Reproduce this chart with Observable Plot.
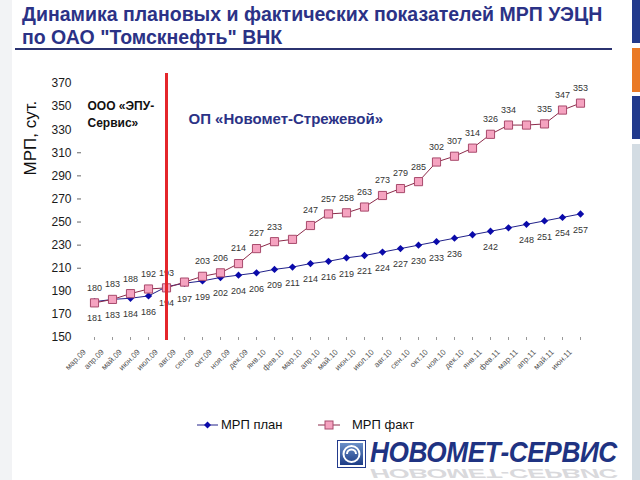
<!DOCTYPE html>
<html>
<head>
<meta charset="utf-8">
<script src="https://cdn.jsdelivr.net/npm/d3@7"></script>
<script src="https://cdn.jsdelivr.net/npm/@observablehq/plot@0.6"></script>
<style>
  html, body { margin: 0; padding: 0; background: #fff; }
  #wrap { position: relative; width: 640px; height: 480px; overflow: hidden; font-family: "Liberation Sans", Arial, sans-serif; }
  #wrap svg.plot { position: absolute; left: 0; top: 0; }
  .abs { position: absolute; white-space: nowrap; }
</style>
</head>
<body>
<div id="wrap">
  <div class="abs" style="left:0;top:0;width:12px;height:480px;background:#f2f3f5;"></div>
  <div class="abs" style="left:632px;top:0;width:8px;height:43px;background:#223a8c;"></div>
  <div class="abs" style="left:632px;top:48px;width:8px;height:44px;background:#ea7a26;"></div>
  <div class="abs" style="left:632px;top:96px;width:8px;height:43px;background:#223a8c;"></div>
  <div class="abs" style="left:632px;top:144px;width:8px;height:336px;background:#d3dce3;"></div>
  <div class="abs" id="title" style="left:22px;top:3px;font-size:19.5px;font-weight:bold;color:#2b3286;line-height:23px;">Динамика плановых и фактических показателей МРП УЭЦН<br>по ОАО "Томскнефть" ВНК</div>
  <div class="abs" style="left:15px;top:48px;width:597px;height:2px;background:#2b3270;"></div>
</div>
<script>
const months = ["мар.09","апр.09","май.09","июн.09","июл.09","авг.09","сен.09","окт.09","ноя.09","дек.09",
  "янв.10","фев.10","мар.10","апр.10","май.10","июн.10","июл.10","авг.10","сен.10","окт.10","ноя.10","дек.10",
  "янв.11","фев.11","мар.11","апр.11","май.11","июн.11"];
const planValues = [181,183,184,186,194,197,199,202,204,206,209,211,214,216,219,221,224,227,230,233,236,239,242,245,248,251,254,257];
const factValues = [180,183,188,192,193,198,203,206,214,227,233,235,247,257,258,263,273,279,285,302,307,314,326,334,334,335,347,353];
const planLabelShown = [181,183,184,186,194,197,199,202,204,206,209,211,214,216,219,221,224,227,230,233,236,null,242,null,248,251,254,257];
const factLabelShown = [180,183,188,192,193,null,203,206,214,227,233,null,247,257,258,263,273,279,285,302,307,314,326,334,null,335,347,353];
const yTicks = [150,170,190,210,230,250,270,290,310,330,350,370];
const yDashTicks = [210,230,250,270,290,310];
const dividerMonth = "июл.09";
const yTitle = "МРП, сут.";
const leftCompany = ["ООО «ЭПУ-", "Сервис»"];
const rightCompany = "ОП «Новомет-Стрежевой»";
const seriesNames = ["МРП план", "МРП факт"];
const logoText = "НОВОМЕТ-СЕРВИС";

const plan = months.map((m, i) => ({month: m, value: planValues[i], label: planLabelShown[i]}));
const fact = months.map((m, i) => ({month: m, value: factValues[i], label: factLabelShown[i]}));

const font = "'Liberation Sans', Arial, sans-serif";

const chart = Plot.plot({
  width: 640,
  height: 480,
  marginLeft: 89,
  marginRight: 56,
  marginTop: 83,
  marginBottom: 143,
  style: {fontFamily: font, background: "transparent", overflow: "visible"},
  x: {type: "point", domain: months, padding: 0},
  y: {domain: [150, 370]},
  marks: [
    Plot.axisY({ticks: yTicks, tickSize: 0, tickPadding: 18, fontSize: 12, fill: "#1a1a1a", label: null}),
    Plot.axisY({ticks: yDashTicks, tickSize: 4, dx: -8, tickFormat: () => "", stroke: "#666", label: null}),
    Plot.axisX({tickSize: 3, tickFormat: () => "", stroke: "#999", label: null}),
    Plot.text(months, {x: d => d, frameAnchor: "bottom", rotate: -45, textAnchor: "end", dx: -8, dy: 15, fontSize: 8, fill: "#555"}),
    Plot.text([yTitle], {frameAnchor: "left", rotate: -90, dx: -59, dy: -35, fontSize: 17, fill: "#111"}),
    Plot.line(plan, {x: "month", y: "value", stroke: "#22228a", strokeWidth: 1}),
    Plot.line(fact, {x: "month", y: "value", stroke: "#8c2a4a", strokeWidth: 1}),
    Plot.dot(plan, {x: "month", y: "value", symbol: "diamond2", r: 3.3, fill: "#0a0aaa", stroke: "none"}),
    Plot.dot(fact, {x: "month", y: "value", symbol: "square", r: 4.6, fill: "#f5a3c0", stroke: "#a84a6c", strokeWidth: 1}),
    Plot.text(fact.filter(d => d.label != null), {x: "month", y: "value", text: "label", dy: -15, fontSize: 9, fill: "#333"}),
    Plot.text(plan.filter(d => d.label != null), {x: "month", y: "value", text: "label", dy: 16, fontSize: 9, fill: "#333"}),
    Plot.ruleX([dividerMonth], {stroke: "#e4262b", strokeWidth: 3, insetTop: -10, insetBottom: -3}),
    Plot.text([leftCompany.join("\n")], {frameAnchor: "top-left", dx: -2, dy: 14, textAnchor: "start", lineAnchor: "top", lineHeight: 1.45, fontSize: 12, fontWeight: "bold", fill: "#111"}),
    Plot.text([rightCompany], {x: () => dividerMonth, frameAnchor: "top", dx: 22, dy: 30, textAnchor: "start", fontSize: 15, fontWeight: "bold", fill: "#2b3286"})
  ]
});
chart.classList.add("plot");
document.getElementById("wrap").appendChild(chart);

// Legend
const wrap = document.getElementById("wrap");
const legend = document.createElement("div");
legend.className = "abs";
legend.style.cssText = "left:196px;top:416px;font-size:13px;color:#111;";
legend.innerHTML = `
<svg width="220" height="18" style="position:absolute;left:0;top:0;overflow:visible">
  <line x1="1" x2="22" y1="9" y2="9" stroke="#22228a" stroke-width="1"/>
  <path d="M11.5,5.5 L15,9 L11.5,12.5 L8,9Z" fill="#0a0aaa"/>
  <line x1="122" x2="144" y1="9" y2="9" stroke="#8c2a4a" stroke-width="1"/>
  <rect x="129" y="5" width="8" height="8" fill="#f5a3c0" stroke="#a84a6c" stroke-width="1"/>
</svg>
<span style="position:absolute;left:25px;top:1px;">${seriesNames[0]}</span>
<span style="position:absolute;left:156px;top:1px;">${seriesNames[1]}</span>`;
wrap.appendChild(legend);

// Logo
const logo = document.createElement("div");
logo.className = "abs";
logo.style.cssText = "left:337px;top:438px;width:290px;height:42px;";
logo.innerHTML = `
<svg width="30" height="30" style="position:absolute;left:0;top:2px">
  <defs><linearGradient id="lg" x1="0" y1="0" x2="0" y2="1"><stop offset="0" stop-color="#6a8fc8"/><stop offset="1" stop-color="#1d3c86"/></linearGradient></defs>
  <rect x="0.5" y="0.5" width="28" height="27" fill="#fff" stroke="#223a8c"/>
  <rect x="3" y="3" width="23" height="22" fill="url(#lg)"/>
  <circle cx="14.5" cy="14" r="8" fill="none" stroke="#fff" stroke-width="2"/>
  <path d="M10,14 a4.5,4.5 0 1 1 9,0" fill="none" stroke="#fff" stroke-width="2"/>
</svg>
<div style="position:absolute;left:33px;top:0px;font-size:30px;line-height:28px;font-weight:bold;font-style:italic;color:#1f3382;letter-spacing:-0.5px;transform:scaleX(0.875);transform-origin:0 0;">${logoText}</div>
<div style="position:absolute;left:33px;top:41px;font-size:30px;line-height:28px;font-weight:bold;font-style:italic;color:#d0d0d4;letter-spacing:-0.5px;transform:scale(0.875,-0.4);transform-origin:0 0;opacity:0.8">${logoText}</div>`;
wrap.appendChild(logo);
</script>
</body>
</html>
